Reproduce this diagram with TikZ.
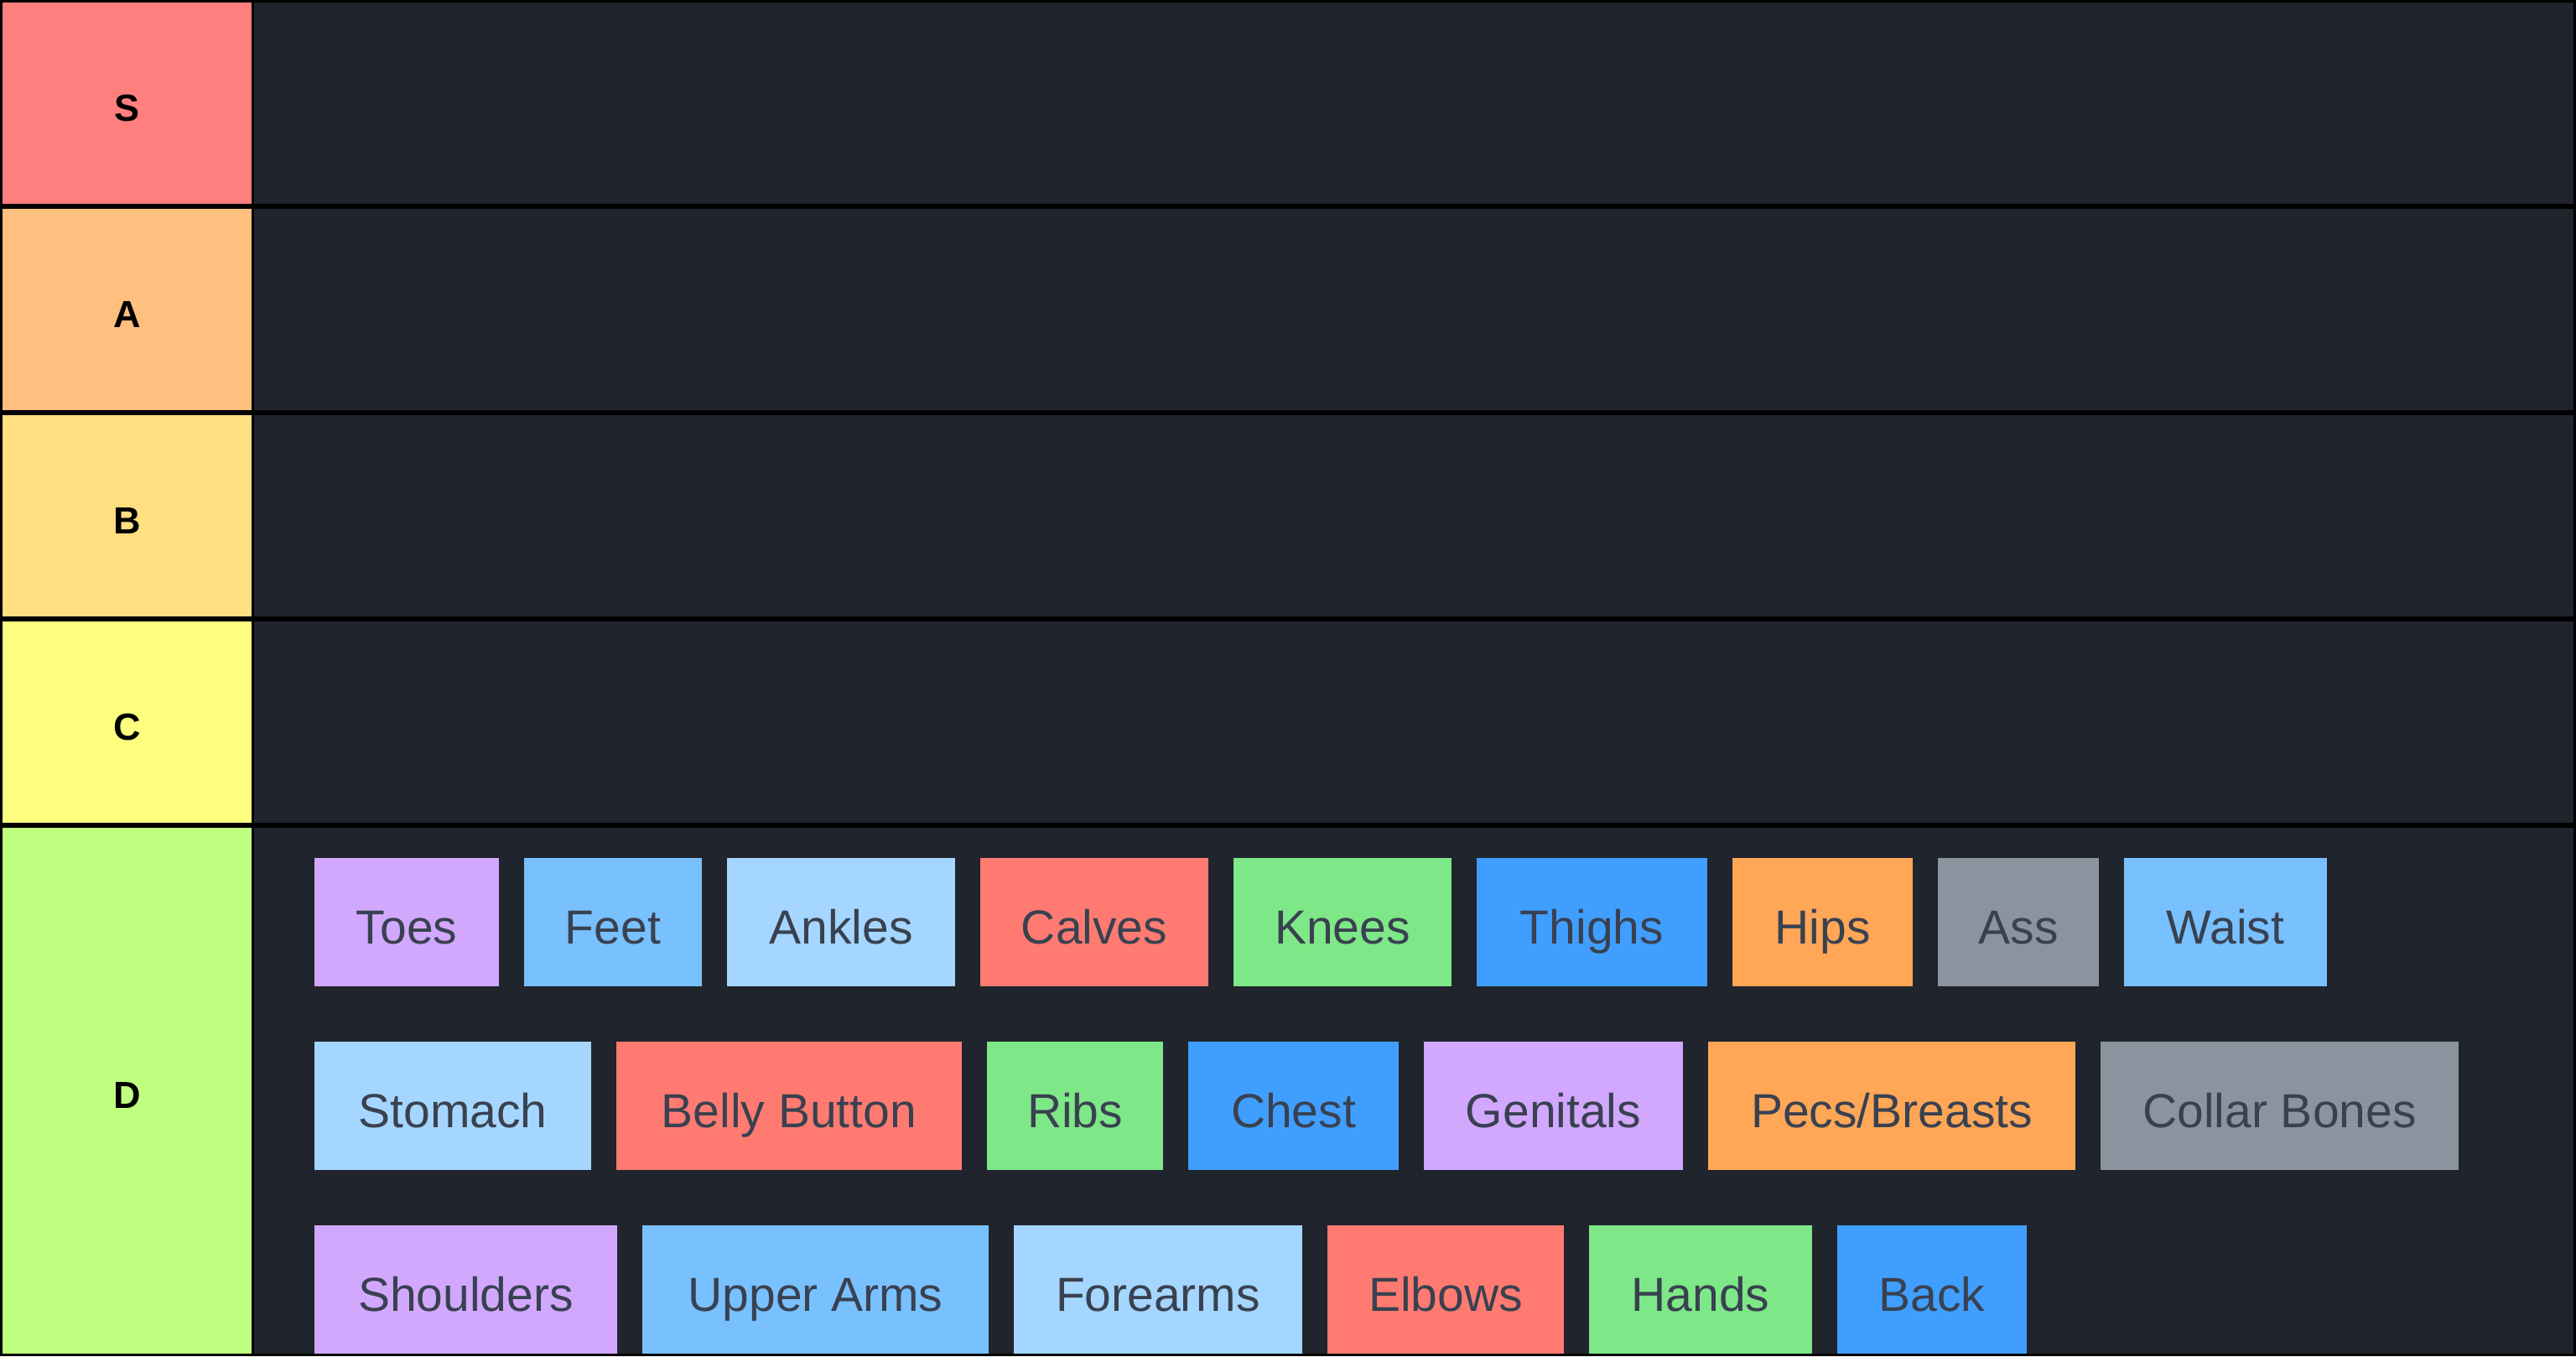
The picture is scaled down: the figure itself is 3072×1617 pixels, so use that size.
\documentclass[tikz,border=0pt]{standalone}
\usepackage{fontspec}
\setmainfont{Liberation Sans}
\definecolor{bgdark}{HTML}{20242C}
\definecolor{tierS}{HTML}{FF7F7F}
\definecolor{tierA}{HTML}{FFBF7F}
\definecolor{tierB}{HTML}{FFDF7F}
\definecolor{tierC}{HTML}{FFFF7F}
\definecolor{tierD}{HTML}{BFFF7F}
\definecolor{cpurple}{HTML}{D2A8FF}
\definecolor{cblue}{HTML}{79C0FF}
\definecolor{cpale}{HTML}{A5D6FF}
\definecolor{cred}{HTML}{FF7B72}
\definecolor{cgreen}{HTML}{7EE787}
\definecolor{cdeep}{HTML}{409EFF}
\definecolor{corange}{HTML}{FFA657}
\definecolor{cgray}{HTML}{8B949E}
\definecolor{chiptext}{HTML}{394150}
\begin{document}
\begin{tikzpicture}[x=1pt,y=-1pt,
  tiercell/.style={draw=none, inner sep=0pt, outer sep=0pt, minimum width=297pt, minimum height=240pt,
    text=black, font=\bfseries\fontsize{45}{54}\selectfont, text height=42pt, text depth=0pt},
  lane/.style={draw=none, fill=bgdark, inner sep=0pt, outer sep=0pt, minimum width=2766pt, minimum height=240pt},
  chip/.style={draw=none, inner sep=0pt, outer sep=0pt, minimum height=153pt,
    text=chiptext, font=\fontsize{57}{68}\selectfont, text height=51pt, text depth=0pt}]
\fill[black] (0,0) rectangle (3072,1617);
\useasboundingbox (0,0) rectangle (3072,1617);
% tier label cells
\node[tiercell, fill=tierS] (tS) at (151.5,123) {S};
\node[tiercell, fill=tierA] (tA) at (151.5,369) {A};
\node[tiercell, fill=tierB] (tB) at (151.5,615) {B};
\node[tiercell, fill=tierC] (tC) at (151.5,861) {C};
\node[tiercell, fill=tierD, minimum height=627pt] (tD) at (151.5,1300.5) {D};
% lanes
\node[lane] (lS) at (1686,123) {};
\node[lane] (lA) at (1686,369) {};
\node[lane] (lB) at (1686,615) {};
\node[lane] (lC) at (1686,861) {};
\node[lane, minimum height=627pt] (lD) at (1686,1300.5) {};
% row 1
\node[chip, fill=cpurple, minimum width=220pt] (toes) at (485,1099.5) {Toes};
\node[chip, fill=cblue, minimum width=212pt] (feet) at (731,1099.5) {Feet};
\node[chip, fill=cpale, minimum width=272pt] (ankles) at (1003,1099.5) {Ankles};
\node[chip, fill=cred, minimum width=272pt] (calves) at (1305,1099.5) {Calves};
\node[chip, fill=cgreen, minimum width=260pt] (knees) at (1601,1099.5) {Knees};
\node[chip, fill=cdeep, minimum width=275pt] (thighs) at (1898.5,1099.5) {Thighs};
\node[chip, fill=corange, minimum width=215pt] (hips) at (2173.5,1099.5) {Hips};
\node[chip, fill=cgray, minimum width=192pt] (ass) at (2407,1099.5) {Ass};
\node[chip, fill=cblue, minimum width=242pt] (waist) at (2654,1099.5) {Waist};
% row 2
\node[chip, fill=cpale, minimum width=330pt] (stomach) at (540,1318.5) {Stomach};
\node[chip, fill=cred, minimum width=412pt] (belly) at (941,1318.5) {Belly Button};
\node[chip, fill=cgreen, minimum width=210pt] (ribs) at (1282,1318.5) {Ribs};
\node[chip, fill=cdeep, minimum width=251pt] (chest) at (1542.5,1318.5) {Chest};
\node[chip, fill=cpurple, minimum width=309pt] (genitals) at (1852.5,1318.5) {Genitals};
\node[chip, fill=corange, minimum width=438pt] (pecs) at (2256,1318.5) {Pecs/Breasts};
\node[chip, fill=cgray, minimum width=427pt] (collar) at (2718.5,1318.5) {Collar Bones};
% row 3
\node[chip, fill=cpurple, minimum width=361pt] (shoulders) at (555.5,1537.5) {Shoulders};
\node[chip, fill=cblue, minimum width=413pt] (upperarms) at (972.5,1537.5) {Upper Arms};
\node[chip, fill=cpale, minimum width=344pt] (forearms) at (1381,1537.5) {Forearms};
\node[chip, fill=cred, minimum width=282pt] (elbows) at (1724,1537.5) {Elbows};
\node[chip, fill=cgreen, minimum width=266pt] (hands) at (2028,1537.5) {Hands};
\node[chip, fill=cdeep, minimum width=226pt] (back) at (2304,1537.5) {Back};
% bottom border over the last row
\fill[black] (0,1614) rectangle (3072,1617);
\end{tikzpicture}
\end{document}
